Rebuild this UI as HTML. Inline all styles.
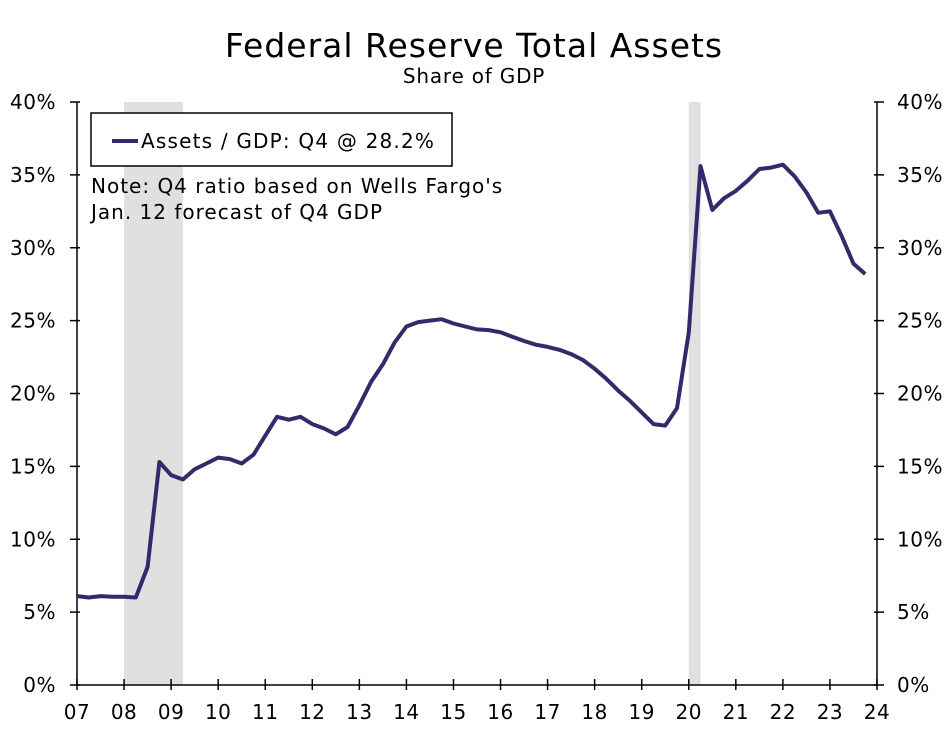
<!DOCTYPE html>
<html><head><meta charset="utf-8"><style>
body{margin:0;background:#fff;}
svg text{font-family:"DejaVu Sans","Liberation Sans",sans-serif;fill:#000;}
</style></head><body>
<svg id="chart" width="949" height="727" viewBox="0 0 949 727">
<text x="474" y="57" font-size="33" letter-spacing="1" text-anchor="middle">Federal Reserve Total Assets</text>
<text x="474" y="83" font-size="20" letter-spacing="0.8" text-anchor="middle">Share of GDP</text>
<g id="rec"></g><g id="axes"></g><g id="line"></g>
<rect x="91" y="113" width="361" height="53" fill="#fff" stroke="#000" stroke-width="1.5"/>
<line x1="112" y1="141" x2="138" y2="141" stroke="#332a6b" stroke-width="4"/>
<text x="141" y="148" font-size="20" letter-spacing="1.2">Assets / GDP: Q4 @ 28.2%</text>
<text x="91" y="193" font-size="20" letter-spacing="1">Note: Q4 ratio based on Wells Fargo's</text>
<text x="91" y="219" font-size="20" letter-spacing="1">Jan. 12 forecast of Q4 GDP</text>
</svg>
<script>
const startYear = 2007;
const values = [6.1,6.0,6.1,6.05, 6.05,6.0,8.1,15.3, 14.4,14.1,14.8,15.2, 15.6,15.5,15.2,15.8, 17.1,18.4,18.2,18.4, 17.9,17.6,17.2,17.7, 19.2,20.8,22.0,23.5, 24.6,24.9,25.0,25.1, 24.8,24.6,24.4,24.35, 24.2,23.9,23.6,23.35, 23.2,23.0,22.7,22.3, 21.7,21.0,20.2,19.5, 18.7,17.9,17.8,19.0, 24.2,35.6,32.6,33.4, 33.9,34.6,35.4,35.5, 35.7,34.9,33.8,32.4, 32.5,30.8,28.9,28.2];
const yTicks = [0,5,10,15,20,25,30,35,40];
const xTickLabels = ["07","08","09","10","11","12","13","14","15","16","17","18","19","20","21","22","23","24"];
const recessionStarts = [2008.0, 2020.0];
const recessionEnds = [2009.25, 2020.25];

const NS="http://www.w3.org/2000/svg";
const X0=77,X1=877,Y0=685,Y1=102;
const xs=t=>X0+(t-2007)/17*(X1-X0);
const ys=v=>Y0-v/40*(Y0-Y1);
function mk(tag,attrs,parent,txt){const e=document.createElementNS(NS,tag);for(const k in attrs)e.setAttribute(k,attrs[k]);if(txt!==undefined)e.textContent=txt;parent.appendChild(e);return e;}
const rec=document.getElementById('rec'),ax=document.getElementById('axes'),ln=document.getElementById('line');
recessionStarts.forEach((s,i)=>{
  const r=mk('rect',{x:xs(s),y:Y1,width:xs(recessionEnds[i])-xs(s),height:Y0-Y1,fill:'#e0e0e0'},rec);
  
  
});
let a=mk('line',{x1:X0,y1:Y1,x2:X0,y2:Y0,stroke:'#000','stroke-width':1.5},ax);


a=mk('line',{x1:X1,y1:Y1,x2:X1,y2:Y0,stroke:'#000','stroke-width':1.5},ax);


a=mk('line',{x1:X0,y1:Y0,x2:X1,y2:Y0,stroke:'#000','stroke-width':1.5},ax);


yTicks.forEach(v=>{
  const y=ys(v);
  mk('line',{x1:X0-7,y1:y,x2:X0+3,y2:y,stroke:'#000','stroke-width':1.5},ax);
  mk('line',{x1:X1-3,y1:y,x2:X1+7,y2:y,stroke:'#000','stroke-width':1.5},ax);
  const t=mk('text',{x:56,y:y+7,'font-size':20,'letter-spacing':0.5,'text-anchor':'end'},ax,v+'%');
  
  
  const t2=mk('text',{x:897,y:y+7,'font-size':20,'letter-spacing':0.5},ax,v+'%');
  
  
});
xTickLabels.forEach((l,i)=>{
  const x=xs(2007+i);
  mk('line',{x1:x,y1:Y0-6,x2:x,y2:Y0+5,stroke:'#000','stroke-width':1.5},ax);
  const t=mk('text',{x:x,y:Y0+34,'font-size':20,'letter-spacing':0.5,'text-anchor':'middle'},ax,l);
  
  
});
const pts=values.map((v,i)=>xs(startYear+i/4).toFixed(1)+','+ys(v).toFixed(1)).join(' ');
const pl=mk('polyline',{points:pts,fill:'none',stroke:'#332a6b','stroke-width':4,'stroke-linejoin':'round'},ln);


</script>
</body></html>
